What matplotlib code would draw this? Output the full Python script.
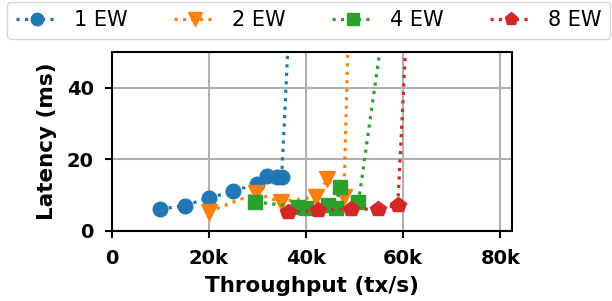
import matplotlib
matplotlib.use("Agg")
import matplotlib.pyplot as plt
from matplotlib.ticker import FuncFormatter

# throughput (tx/s) and latency (ms) per number of executor workers
x_1ew = [10000, 15000, 20000, 25000, 30000, 32000, 34000, 35000, 38000]
y_1ew = [6.1, 7.1, 9.2, 11.1, 13.2, 15.3, 15.1, 15.1, 100]

x_2ew = [20000, 29700, 34800, 42000, 44400, 47800, 49600]
y_2ew = [5.4, 10.5, 8.1, 9.5, 14.4, 9.5, 100]

x_4ew = [29600, 38400, 40100, 44500, 46100, 46900, 50800, 60400]
y_4ew = [8.1, 6.7, 6.3, 7.2, 6.3, 12.3, 8.0, 100]

x_8ew = [36400, 42500, 49300, 54800, 58900, 62300]
y_8ew = [5.2, 5.8, 6.1, 6.1, 7.2, 100]

labels = ["1 EW", "2 EW", "4 EW", "8 EW"]
xticks = [0, 20000, 40000, 60000, 80000]
yticks = [0, 20, 40]

fig = plt.figure(figsize=(6.12, 3.01), dpi=100)
ax = fig.add_axes([0.1825, 0.2326, 0.654, 0.5956])

ax.plot(x_1ew, y_1ew, ':', marker='o', color='tab:blue', lw=2.3, ms=10.5, label=labels[0])
ax.plot(x_2ew, y_2ew, ':', marker='v', color='tab:orange', lw=2.3, ms=11.5, label=labels[1])
ax.plot(x_4ew, y_4ew, ':', marker='s', color='tab:green', lw=2.3, ms=10, label=labels[2])
ax.plot(x_8ew, y_8ew, ':', marker='p', color='tab:red', lw=2.3, ms=11.5, label=labels[3])

ax.set_xlim(0, 82400)
ax.set_ylim(0, 50)
ax.set_xticks(xticks)
ax.set_yticks(yticks)
ax.xaxis.set_major_formatter(FuncFormatter(lambda v, p: "0" if v == 0 else "%dk" % (v / 1000)))
ax.grid(True, color='#b0b0b0', lw=1.5)
ax.set_axisbelow(True)
for s in ax.spines.values():
    s.set_linewidth(1.5)
ax.tick_params(width=1.5, length=5, labelsize=14, pad=8)
for t in ax.get_xticklabels() + ax.get_yticklabels():
    t.set_fontweight('bold')
ax.set_xlabel("Throughput (tx/s)", fontsize=15.5, fontweight='bold', labelpad=6)
ax.set_ylabel("Latency (ms)", fontsize=15.5, fontweight='bold', labelpad=7)

fig.legend(loc='upper left', ncol=4, fontsize=15, bbox_to_anchor=(0.012, 0, 0.985, 0.993),
           mode='expand', handlelength=2.0, handletextpad=0.8, markerscale=0.85,
           borderaxespad=0.0, fancybox=True)

fig.savefig("out.png", dpi=100)
